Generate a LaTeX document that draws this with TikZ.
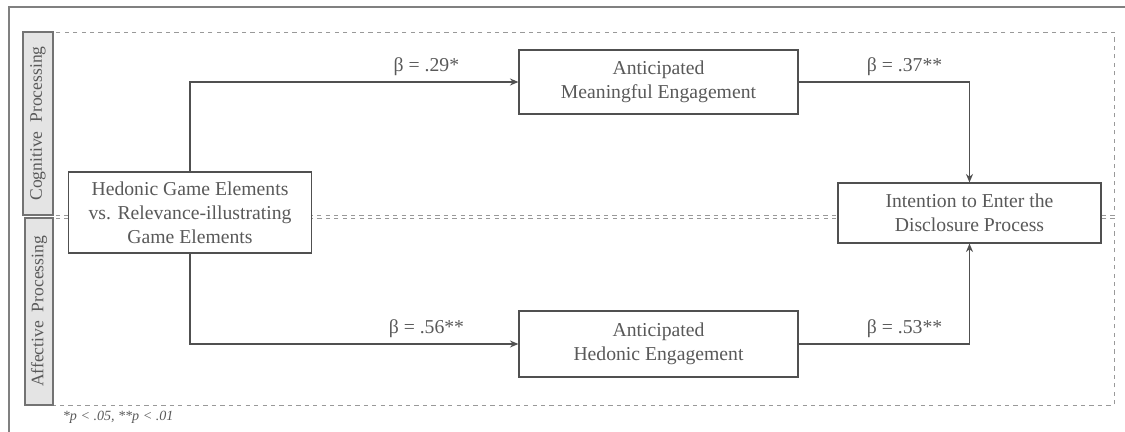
\documentclass[tikz,border=0pt]{standalone}
\usepackage{fontspec}
\setmainfont{Liberation Serif}
\usetikzlibrary{arrows.meta}
\definecolor{txtgray}{HTML}{595959}
\definecolor{linegray}{HTML}{505050}
\definecolor{panelgray}{HTML}{E4E4E4}

\begin{document}
\begin{tikzpicture}[x=0.025cm, y=-0.025cm, font=\fontsize{14}{17}\selectfont, text=txtgray, block/.style={rectangle, draw=linegray, fill=white, line width=0.8pt, align=center, inner sep=2pt}, sidebox/.style={rectangle, draw=linegray!80, fill=panelgray, line width=1.2pt, rotate=90, inner sep=0pt, font=\fontsize{12.5}{15}\selectfont}, region/.style={draw=gray!80, dashed, line width=0.7pt}, path/.style={draw=linegray, line width=1pt, -{Stealth[length=6pt, width=5pt]}}]

  \useasboundingbox (0,0) rectangle (1125,432);
  \draw[gray, line width=0.8pt] (1125,7) -- (9,7) -- (9,432);

  % processing regions
  \draw[region] (53,32) rectangle (1114,215);
  \draw[region] (53,218) rectangle (1114,405);
  \node[sidebox, minimum width=4.575cm, minimum height=0.75cm] (cogn) at (38,123.5) {Cognitive\ \ Processing};
  \node[sidebox, minimum width=4.675cm, minimum height=0.7cm] (affe) at (39,311.5) {Affective\ \ Processing};

  \node[block, minimum width=6.075cm, minimum height=2.025cm] (hge) at (190,212.5) {Hedonic Game Elements\\vs. Relevance-illustrating\\Game Elements};
  \node[block, minimum width=6.975cm, minimum height=1.6cm] (ame) at (658.5,82) {Anticipated\\Meaningful Engagement};
  \node[block, minimum width=6.975cm, minimum height=1.65cm] (ahe) at (658.5,344) {Anticipated\\Hedonic Engagement};
  \node[block, minimum width=6.575cm, minimum height=1.5cm] (ied) at (969.5,213) {Intention to Enter the\\Disclosure Process};

  \draw[path] (hge.north) |- node[pos=0.86, above=1pt] {β = .29*} (ame.west);
  \draw[path] (ame.east) -| node[pos=0.31, above=1pt] {β = .37**} (ied.north);
  \draw[path] (hge.south) |- node[pos=0.86, above=1pt] {β = .56**} (ahe.west);
  \draw[path] (ahe.east) -| node[pos=0.31, above=1pt] {β = .53**} (ied.south);

  \node[anchor=west, font=\fontsize{10}{12}\selectfont\itshape] (note) at (58,417) {*p < .05, **p < .01};
\end{tikzpicture}
\end{document}
